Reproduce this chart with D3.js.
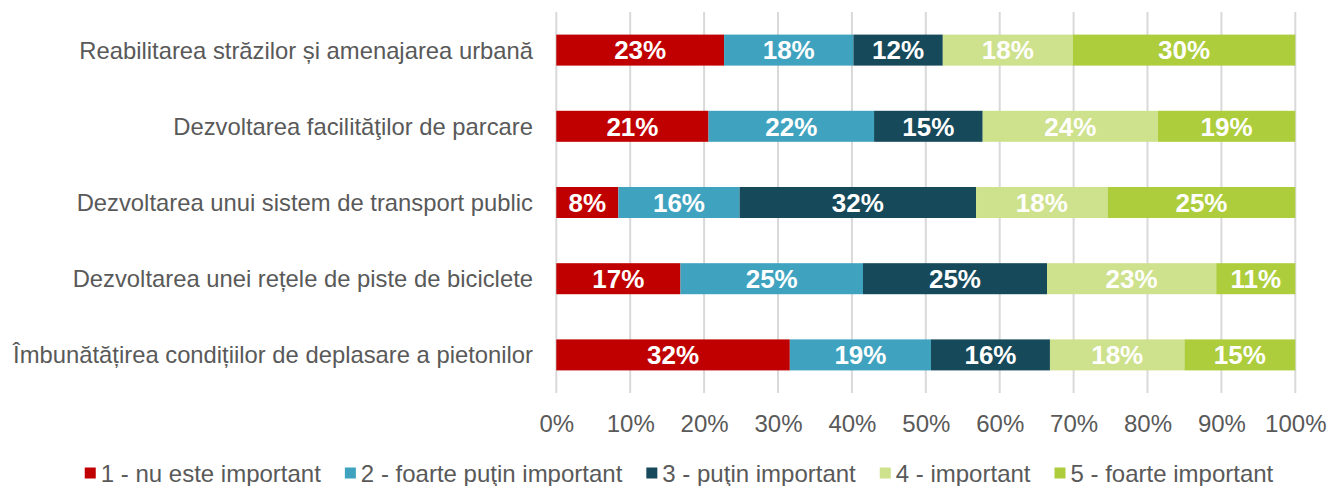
<!DOCTYPE html>
<html>
<head>
<meta charset="utf-8">
<script src="https://cdn.jsdelivr.net/npm/d3@7"></script>
<style>
  html, body { margin: 0; padding: 0; background: #ffffff; }
  svg { display: block; font-family: "Liberation Sans", Arial, sans-serif; }
</style>
</head>
<body>
<svg id="chart" width="1327" height="486"></svg>
<script>
// Survey answers: share of respondents (%) for each importance level
const categories = [
  "Reabilitarea străzilor și amenajarea urbană",
  "Dezvoltarea facilităţilor de parcare",
  "Dezvoltarea unui sistem de transport public",
  "Dezvoltarea unei rețele de piste de biciclete",
  "Îmbunătățirea condițiilor de deplasare a pietonilor"
];
const seriesNames = [
  "1 - nu este important",
  "2 - foarte puţin important",
  "3 - puţin important",
  "4 - important",
  "5 - foarte important"
];
const level1 = [22.7, 20.6, 8.4, 16.8, 31.6];
const level2 = [17.5, 22.4, 16.4, 24.7, 19.1];
const level3 = [12.1, 14.7, 32.0, 24.9, 16.1];
const level4 = [17.6, 23.7, 17.8, 22.9, 18.2];
const level5 = [30.1, 18.6, 25.4, 10.7, 15.0];
const xTicks = [0, 10, 20, 30, 40, 50, 60, 70, 80, 90, 100];
const colors = ["#C00000", "#3FA3BF", "#16495A", "#CEE18D", "#ADCD3C"];

const seriesValues = [level1, level2, level3, level4, level5];
const rows = categories.map((c, i) => {
  const row = { category: c };
  seriesNames.forEach((s, k) => { row[s] = seriesValues[k][i]; });
  return row;
});

const svg = d3.select("#chart");
const textColor = "#595959";

const x = d3.scaleLinear().domain([0, 100]).range([556.3, 1295.3]);
const y = d3.scaleBand().domain(categories).range([12, 393])
  .paddingInner(0.593).paddingOuter(0.2965);

// vertical gridlines
svg.append("g")
  .selectAll("line")
  .data(xTicks)
  .join("line")
  .attr("x1", d => x(d)).attr("x2", d => x(d))
  .attr("y1", 12).attr("y2", 393)
  .attr("stroke", "#D9D9D9")
  .attr("stroke-width", 2);

// x axis labels
const xAxis = d3.axisBottom(x).tickValues(xTicks).tickSize(0).tickPadding(0)
  .tickFormat(d => d + "%");
const gx = svg.append("g").attr("transform", "translate(0,415)").call(xAxis);
gx.select(".domain").remove();
gx.selectAll("text")
  .attr("font-family", "Liberation Sans, Arial, sans-serif")
  .attr("font-size", 24)
  .attr("fill", textColor)
  .attr("dy", "0.72em");

// category labels
const yAxis = d3.axisLeft(y).tickSize(0).tickPadding(0);
const gy = svg.append("g").attr("transform", "translate(533,0)").call(yAxis);
gy.select(".domain").remove();
gy.selectAll("text")
  .attr("font-family", "Liberation Sans, Arial, sans-serif")
  .attr("font-size", 23.8)
  .attr("fill", textColor)
  .attr("dy", "0.36em");

// stacked bars
const stack = d3.stack().keys(seriesNames);
const stacked = stack(rows);

const layers = svg.append("g")
  .selectAll("g")
  .data(stacked)
  .join("g")
  .attr("fill", (d, i) => colors[i]);

layers.selectAll("rect")
  .data(d => d)
  .join("rect")
  .attr("x", d => x(d[0]))
  .attr("width", d => x(d[1]) - x(d[0]))
  .attr("y", d => y(d.data.category))
  .attr("height", y.bandwidth());

// value labels
layers.selectAll("text")
  .data(d => d)
  .join("text")
  .attr("x", d => (x(d[0]) + x(d[1])) / 2)
  .attr("y", d => y(d.data.category) + y.bandwidth() / 2)
  .attr("dy", "0.36em")
  .attr("text-anchor", "middle")
  .attr("fill", "#ffffff")
  .attr("font-weight", "bold")
  .attr("font-size", 26)
  .text(d => Math.round(d[1] - d[0]) + "%");

// legend
const legend = svg.append("g");
const sw = 11, gapText = 5, gapItem = 24, legendY = 473;
const items = legend.selectAll("g")
  .data(seriesNames)
  .join("g");
items.append("rect")
  .attr("width", sw).attr("height", sw)
  .attr("y", legendY - sw / 2)
  .attr("fill", (d, i) => colors[i]);
items.append("text")
  .attr("x", sw + gapText)
  .attr("y", legendY)
  .attr("dy", "0.36em")
  .attr("font-size", 24)
  .attr("fill", textColor)
  .text(d => d);

let offset = 0;
const widths = [];
items.each(function () {
  const w = sw + gapText + this.querySelector("text").getComputedTextLength();
  widths.push(w);
});
const total = d3.sum(widths) + gapItem * (widths.length - 1);
let start = 679 - total / 2;
items.attr("transform", (d, i) => {
  const t = `translate(${start + offset},0)`;
  offset += widths[i] + gapItem;
  return t;
});
</script>
</body>
</html>
